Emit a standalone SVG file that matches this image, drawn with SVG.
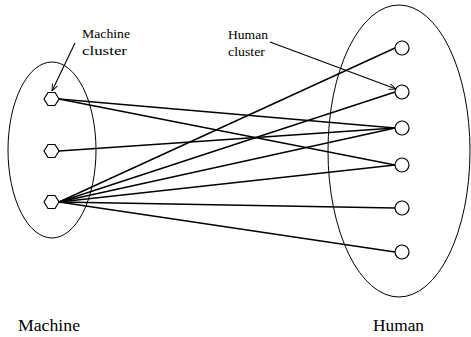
<svg xmlns="http://www.w3.org/2000/svg" width="471" height="337" viewBox="0 0 471 337">
<defs>
<style>
.cl{fill:none;stroke:#000;stroke-width:1}
.nd{fill:#fff;stroke:#000;stroke-width:1.2}
.ed{stroke:#000;stroke-width:1.4;fill:none}
.ar{stroke:#000;stroke-width:1.1;fill:none}
.t{font-family:"Liberation Serif","Times New Roman",serif;fill:#000}
</style>
<marker id="v" viewBox="0 0 10 10" refX="10" refY="5" markerWidth="7" markerHeight="7" orient="auto" markerUnits="userSpaceOnUse">
<path d="M0,1 L10,5 L0,9" fill="none" stroke="#000" stroke-width="1.3"/>
</marker>
</defs>
<rect width="471" height="337" fill="#fff"/>
<g id="machine-cluster">
<ellipse class="cl" cx="52" cy="150" rx="44" ry="88"/>
</g>
<g id="human-cluster">
<ellipse class="cl" cx="399" cy="151" rx="71" ry="146"/>
</g>
<g id="connectors">
<line class="ed" x1="59" y1="99" x2="395" y2="128"/>
<line class="ed" x1="59" y1="99" x2="395" y2="165"/>
<line class="ed" x1="59" y1="151" x2="395" y2="128"/>
<line class="ed" x1="59" y1="202" x2="395" y2="48"/>
<line class="ed" x1="59" y1="202" x2="395" y2="92"/>
<line class="ed" x1="59" y1="202" x2="395" y2="128"/>
<line class="ed" x1="59" y1="202" x2="395" y2="165"/>
<line class="ed" x1="59" y1="202" x2="395" y2="208"/>
<line class="ed" x1="59" y1="202" x2="395" y2="252"/>
<line class="ar" x1="75" y1="43" x2="52" y2="91" marker-end="url(#v)"/>
<line class="ar" x1="270" y1="42" x2="396" y2="89" marker-end="url(#v)"/>
</g>
<g id="m1"><polygon class="nd" points="44,99 48,92.5 55,92.5 59,99 55,105.5 48,105.5"/></g>
<g id="m2"><polygon class="nd" points="44,151 48,144.5 55,144.5 59,151 55,157.5 48,157.5"/></g>
<g id="m3"><polygon class="nd" points="44,202 48,195.5 55,195.5 59,202 55,208.5 48,208.5"/></g>
<g id="h1"><circle class="nd" cx="402" cy="48" r="7"/></g>
<g id="h2"><circle class="nd" cx="402" cy="92" r="7"/></g>
<g id="h3"><circle class="nd" cx="402" cy="128" r="7"/></g>
<g id="h4"><circle class="nd" cx="402" cy="165" r="7"/></g>
<g id="h5"><circle class="nd" cx="402" cy="208" r="7"/></g>
<g id="h6"><circle class="nd" cx="402" cy="252" r="7"/></g>
<g id="labels">
<text class="t" x="82" y="38" font-size="13" textLength="48" lengthAdjust="spacingAndGlyphs">Machine</text>
<text class="t" x="82" y="55" font-size="13" textLength="45" lengthAdjust="spacingAndGlyphs">cluster</text>
<text class="t" x="228" y="39" font-size="13" textLength="40" lengthAdjust="spacingAndGlyphs">Human</text>
<text class="t" x="228" y="56" font-size="13" textLength="37" lengthAdjust="spacingAndGlyphs">cluster</text>
<text class="t" x="18" y="331" font-size="16" textLength="62" lengthAdjust="spacingAndGlyphs">Machine</text>
<text class="t" x="373" y="331" font-size="16" textLength="51" lengthAdjust="spacingAndGlyphs">Human</text>
</g>
</svg>
